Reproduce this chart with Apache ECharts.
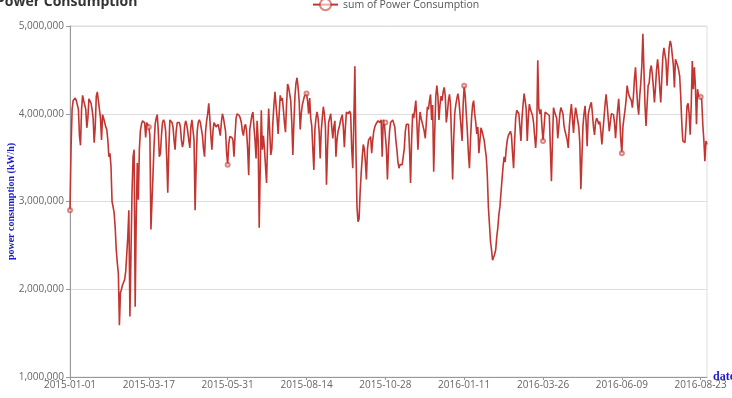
<!DOCTYPE html>
<html><head><meta charset="utf-8">
<script src="https://cdn.jsdelivr.net/npm/echarts@6/dist/echarts.min.js"></script>
<style>html,body{margin:0;padding:0;background:#fff}#c{width:732px;height:398px}</style>
</head><body><div id="c"></div>
<script>
const startDate = '2015-01-01';
const seriesName = 'sum of Power Consumption';
const consumption = [
2.90e6,3.60e6,4.05e6,4.15e6,4.17e6,4.18e6,4.15e6,4.10e6,4.05e6,3.75e6,
3.64e6,4.05e6,4.21e6,4.15e6,4.10e6,4.05e6,3.84e6,3.95e6,4.17e6,4.15e6,
4.12e6,4.05e6,3.95e6,3.67e6,3.85e6,4.20e6,4.25e6,4.15e6,4.05e6,3.95e6,
3.70e6,3.99e6,3.95e6,3.90e6,3.85e6,3.82e6,3.70e6,3.51e6,3.55e6,3.40e6,
3.00e6,2.94e6,2.87e6,2.70e6,2.45e6,2.30e6,2.18e6,1.59e6,1.96e6,2.00e6,
2.05e6,2.08e6,2.11e6,2.20e6,2.40e6,2.60e6,2.90e6,1.69e6,2.40e6,3.10e6,
3.51e6,3.59e6,1.80e6,2.80e6,3.44e6,3.02e6,3.60e6,3.81e6,3.88e6,3.92e6,
3.93e6,3.90e6,3.73e6,3.90e6,3.88e6,3.85e6,3.75e6,2.68e6,3.00e6,3.32e6,
3.65e6,3.88e6,3.95e6,3.99e6,3.80e6,3.51e6,3.55e6,3.75e6,3.90e6,3.93e6,
3.90e6,3.80e6,3.50e6,3.10e6,3.60e6,3.93e6,3.95e6,3.90e6,3.85e6,3.70e6,
3.59e6,3.80e6,3.90e6,3.92e6,3.90e6,3.85e6,3.70e6,3.62e6,3.68e6,3.85e6,
3.92e6,3.88e6,3.80e6,3.70e6,3.61e6,3.85e6,3.93e6,3.92e6,3.70e6,2.90e6,
3.40e6,3.80e6,3.90e6,3.93e6,3.90e6,3.88e6,3.75e6,3.60e6,3.51e6,3.80e6,
3.92e6,4.00e6,4.12e6,3.95e6,3.75e6,3.59e6,3.80e6,3.90e6,3.88e6,3.85e6,
3.87e6,3.88e6,3.86e6,3.75e6,3.90e6,4.00e6,3.95e6,3.93e6,3.80e6,3.55e6,
3.42e6,3.65e6,3.74e6,3.72e6,3.73e6,3.70e6,3.51e6,3.75e6,3.95e6,4.00e6,
4.02e6,3.98e6,3.95e6,3.90e6,3.80e6,3.75e6,3.85e6,3.88e6,3.80e6,3.60e6,
3.30e6,3.82e6,3.90e6,3.98e6,4.02e6,3.85e6,3.70e6,3.49e6,3.92e6,3.70e6,
2.70e6,3.40e6,4.04e6,3.59e6,3.75e6,3.60e6,3.40e6,3.21e6,3.70e6,4.06e6,
3.80e6,3.53e6,3.60e6,3.90e6,4.10e6,4.25e6,4.10e6,3.95e6,3.77e6,4.00e6,
4.21e6,4.15e6,4.18e6,4.05e6,3.90e6,3.79e6,4.10e6,4.34e6,4.30e6,4.32e6,
4.15e6,3.90e6,3.53e6,3.90e6,4.20e6,4.35e6,4.41e6,4.30e6,4.15e6,3.82e6,
4.00e6,4.10e6,4.15e6,4.20e6,4.22e6,4.23e6,4.15e6,4.00e6,4.18e6,3.95e6,
3.86e6,3.60e6,3.36e6,3.82e6,3.95e6,4.02e6,3.95e6,3.80e6,3.49e6,3.80e6,
3.95e6,4.08e6,4.00e6,3.85e6,3.19e6,3.60e6,3.90e6,3.95e6,4.00e6,3.85e6,
3.72e6,3.85e6,3.92e6,3.51e6,3.70e6,3.80e6,3.84e6,3.90e6,3.95e6,3.99e6,
3.85e6,3.62e6,3.85e6,4.02e6,4.00e6,4.00e6,4.03e6,4.00e6,3.60e6,3.38e6,
3.90e6,4.54e6,3.60e6,2.94e6,2.77e6,2.80e6,3.10e6,3.32e6,3.50e6,3.65e6,
3.60e6,3.45e6,3.25e6,3.60e6,3.70e6,3.72e6,3.74e6,3.55e6,3.70e6,3.80e6,
3.85e6,3.88e6,3.90e6,3.92e6,3.93e6,3.90e6,3.93e6,3.51e6,3.93e6,3.90e6,
3.90e6,3.60e6,3.25e6,3.60e6,3.80e6,3.90e6,3.92e6,3.93e6,3.92e6,3.85e6,
3.70e6,3.59e6,3.45e6,3.38e6,3.42e6,3.44e6,3.42e6,3.40e6,3.60e6,3.80e6,
3.88e6,3.90e6,3.88e6,3.60e6,3.21e6,3.70e6,4.00e6,3.95e6,4.05e6,4.15e6,
3.90e6,3.59e6,3.85e6,4.02e6,3.95e6,3.90e6,3.85e6,3.80e6,3.72e6,3.90e6,
4.08e6,4.05e6,4.15e6,4.22e6,3.93e6,4.10e6,3.34e6,3.80e6,4.20e6,4.32e6,
4.20e6,3.93e6,4.10e6,4.20e6,4.15e6,4.25e6,4.30e6,4.20e6,3.90e6,4.00e6,
4.15e6,4.22e6,4.10e6,3.70e6,3.25e6,3.70e6,4.00e6,4.10e6,4.17e6,4.23e6,
4.15e6,4.00e6,3.85e6,3.69e6,4.10e6,4.32e6,4.20e6,4.00e6,3.80e6,3.55e6,
3.38e6,3.70e6,3.95e6,4.10e6,4.15e6,4.00e6,3.90e6,3.77e6,3.85e6,3.55e6,
3.70e6,3.84e6,3.80e6,3.75e6,3.70e6,3.60e6,3.51e6,3.30e6,2.94e6,2.75e6,
2.55e6,2.45e6,2.33e6,2.35e6,2.40e6,2.45e6,2.60e6,2.70e6,2.85e6,2.94e6,
3.10e6,3.25e6,3.40e6,3.51e6,3.45e6,3.60e6,3.70e6,3.75e6,3.77e6,3.80e6,
3.75e6,3.55e6,3.38e6,3.70e6,3.95e6,4.04e6,4.06e6,4.00e6,3.85e6,3.69e6,
3.95e6,4.10e6,4.23e6,4.15e6,4.05e6,3.69e6,3.95e6,4.11e6,4.05e6,4.04e6,
3.98e6,3.90e6,3.75e6,3.61e6,3.80e6,4.61e6,4.06e6,4.00e6,4.05e6,3.85e6,
3.69e6,3.85e6,4.02e6,4.01e6,4.00e6,4.02e6,3.98e6,3.60e6,3.23e6,3.70e6,
4.07e6,4.02e6,4.04e6,3.95e6,3.72e6,3.85e6,4.00e6,4.07e6,4.05e6,4.00e6,
3.86e6,3.80e6,3.75e6,3.70e6,3.61e6,3.85e6,4.00e6,4.11e6,3.95e6,3.78e6,
3.95e6,4.07e6,4.00e6,3.98e6,3.85e6,3.67e6,3.14e6,3.50e6,3.86e6,4.00e6,
4.09e6,3.90e6,3.63e6,3.99e6,4.05e6,4.10e6,4.13e6,4.00e6,3.85e6,3.76e6,
3.90e6,3.95e6,3.92e6,3.88e6,3.91e6,3.80e6,3.65e6,3.80e6,3.95e6,4.10e6,
4.22e6,4.10e6,3.95e6,3.80e6,3.90e6,4.00e6,3.98e6,3.99e6,3.90e6,3.72e6,
3.90e6,4.05e6,4.17e6,3.95e6,3.70e6,3.55e6,3.85e6,3.95e6,4.04e6,4.15e6,
4.32e6,4.25e6,4.20e6,4.22e6,4.15e6,4.07e6,4.20e6,4.40e6,4.53e6,4.30e6,
4.10e6,3.99e6,4.20e6,4.35e6,4.55e6,4.91e6,4.50e6,4.10e6,3.86e6,4.10e6,
4.32e6,4.35e6,4.50e6,4.55e6,4.45e6,4.30e6,4.13e6,4.30e6,4.50e6,4.62e6,
4.50e6,4.30e6,4.13e6,4.40e6,4.65e6,4.75e6,4.77e6,4.60e6,4.32e6,4.55e6,
4.75e6,4.83e6,4.78e6,4.80e6,4.55e6,4.30e6,4.62e6,4.60e6,4.55e6,4.50e6,
4.43e6,4.20e6,3.90e6,3.69e6,3.70e6,3.67e6,3.85e6,4.09e6,4.12e6,4.00e6,
3.76e6,4.10e6,4.60e6,4.28e6,4.53e6,4.30e6,3.88e6,4.28e6,4.20e6,4.18e6,
4.19e6,4.15e6,3.88e6,3.70e6,3.46e6,3.69e6,3.65e6
];
const yMin = 1000000, yMax = 5000000, yStep = 1000000;

// category labels: one per day from startDate
const dates = [];
(function(){
  const d0 = new Date(startDate + 'T00:00:00Z');
  for (let i = 0; i < consumption.length; i++) {
    const d = new Date(d0.getTime() + i * 86400000);
    dates.push(d.toISOString().slice(0, 10));
  }
})();

const chart = echarts.init(document.getElementById('c'), null, {renderer: 'canvas'});
const labelFont = 'Open Sans';
const nameStyle = {color: '#1a1acc', fontFamily: 'Liberation Serif', fontWeight: 'bold', fontSize: 10};
chart.setOption({
  animation: false,
  backgroundColor: '#fff',
  title: {
    text: 'Power Consumption', left: -9, top: -10,
    textStyle: {fontSize: 14, fontWeight: 'bold', color: '#333', fontFamily: labelFont}
  },
  legend: {
    left: 307, top: -7, itemWidth: 25, itemHeight: 14, itemGap: 10,
    data: [seriesName],
    textStyle: {fontSize: 10.5, color: '#555', fontFamily: labelFont}
  },
  grid: {left: 70, right: 25, top: 26, bottom: 21, show: true, borderColor: '#ddd', borderWidth: 1,
    containLabel: false, outerBoundsMode: 'none'},
  xAxis: {
    type: 'category', data: dates, boundaryGap: false,
    name: 'date', nameLocation: 'end', nameGap: 6, nameMoveOverlap: false,
    nameTextStyle: Object.assign({}, nameStyle, {fontSize: 12}),
    axisLine: {lineStyle: {color: '#999'}},
    axisTick: {interval: 74, length: 3, lineStyle: {color: '#999'}},
    axisLabel: {interval: 74, fontSize: 10, color: '#666', margin: 3, fontFamily: labelFont},
    splitLine: {show: false}
  },
  yAxis: {
    type: 'value', min: yMin, max: yMax, interval: yStep,
    name: 'power consumption (kW/h)', nameLocation: 'middle', nameGap: 54, nameMoveOverlap: false,
    nameTextStyle: nameStyle,
    axisLine: {show: true, lineStyle: {color: '#999'}},
    axisTick: {show: true, length: 4, lineStyle: {color: '#999'}},
    axisLabel: {fontSize: 10, color: '#666', margin: 6, fontFamily: labelFont,
      formatter: v => v.toLocaleString('en-US')},
    splitLine: {lineStyle: {color: '#ddd'}}
  },
  series: [{
    name: seriesName, type: 'line', data: consumption,
    symbol: 'emptyCircle', symbolSize: 4,
    lineStyle: {width: 1.6, color: '#c23531'},
    itemStyle: {color: '#c23531', borderWidth: 1, opacity: 0.6}
  }]
});
</script>
</body></html>
